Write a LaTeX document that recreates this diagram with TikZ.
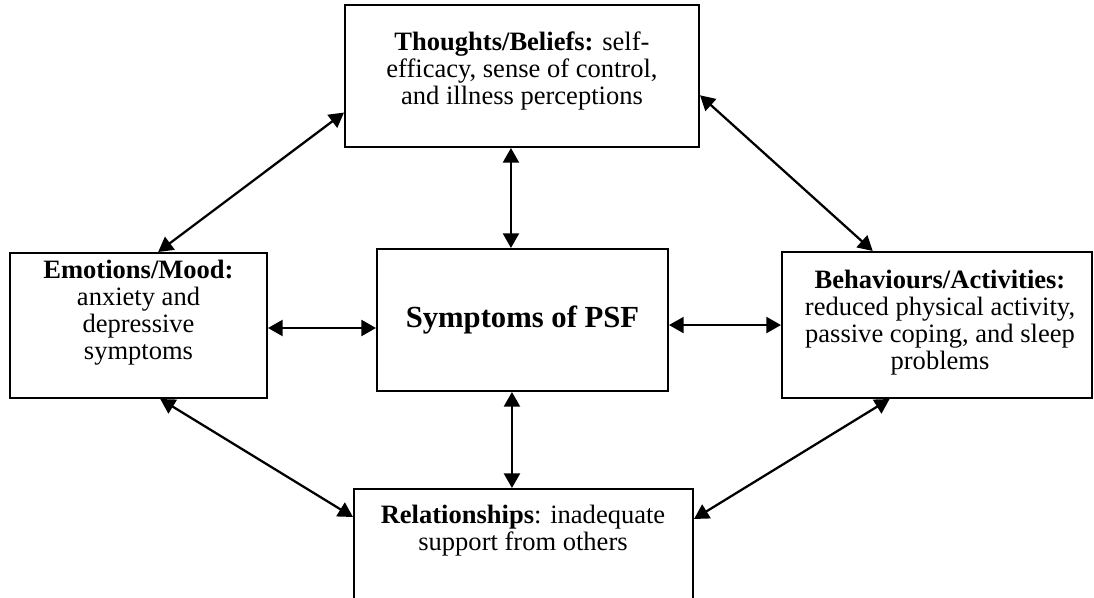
\documentclass[tikz,border=0pt]{standalone}
\usepackage{fontspec}
\setmainfont{Liberation Serif}
\usetikzlibrary{arrows.meta,calc}
\begin{document}
\begin{tikzpicture}[x=0.75pt,y=-0.75pt,
  box/.style={draw, line width=1.5pt, inner sep=0pt},
  boxtext/.style={font=\fontsize{19.9}{20.4}\selectfont, align=center, inner sep=0pt, anchor=north},
  link/.style={line width=1.7pt, {Triangle[length=11pt,width=12pt]}-{Triangle[length=11pt,width=12pt]}}]
\useasboundingbox (0,0) rectangle (1094,598);
\clip (0,0) rectangle (1094,598);

% frames
\node[box, minimum width=265.5pt, minimum height=106.5pt] (T) at (522,76) {};
\node[box, minimum width=218.25pt, minimum height=106.5pt,
      font=\fontsize{23}{26}\selectfont\bfseries] (C) at (522.5,320) {Symptoms of PSF};
\node[box, minimum width=192.75pt, minimum height=108.75pt] (L) at (138.5,325.5) {};
\node[box, minimum width=232.5pt, minimum height=109.5pt] (R) at (937,325) {};
\node[box, minimum width=254.25pt, minimum height=98.25pt] (B) at (523.5,554.5) {};

% texts
\node[boxtext] (Ttext) at (522,31) {\strut\textbf{Thoughts/Beliefs:} self-\\efficacy, sense of control,\\and illness perceptions};
\node[boxtext] (Ltext) at (138.5,259) {\strut\textbf{Emotions/Mood:}\\anxiety and\\depressive\\symptoms};
\node[boxtext] (Rtext) at (940,269) {\strut\textbf{Behaviours/Activities:}\\reduced physical activity,\\passive coping, and sleep\\problems};
\node[boxtext] (Btext) at (523,504) {\strut\textbf{Relationships}: inadequate\\support from others};

% connectors
\draw[link] ($(L.north west)!0.576!(L.north east)$) -- ($(T.north west)!0.754!(T.south west)$);
\draw[link] ($(T.north east)!0.634!(T.south east)$) -- ($(R.north west)!0.294!(R.north east)$);
\draw[link] ($(L.south west)!0.584!(L.south east)$) -- ($(B.north west)+(0,29)$);
\draw[link] ($(R.south west)!0.348!(R.south east)$) -- ($(B.north east)+(0,31)$);
\draw[link] ($(L.north east)!0.517!(L.south east)$) coordinate (h1) -- (h1 -| C.west);
\draw[link] ($(C.north east)!0.535!(C.south east)$) coordinate (h2) -- (h2 -| R.west);
\draw[link] ($(T.south west)!0.469!(T.south east)$) coordinate (v1) -- (v1 |- C.north);
\draw[link] ($(C.south west)!0.464!(C.south east)$) coordinate (v2) -- (v2 |- B.north);
\end{tikzpicture}
\end{document}
